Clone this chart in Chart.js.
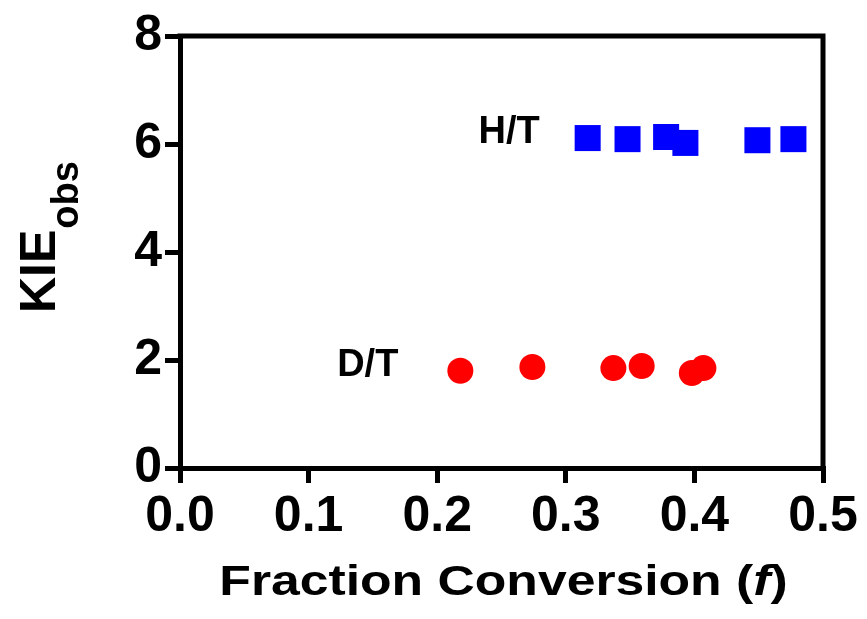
<!DOCTYPE html>
<html>
<head>
<meta charset="utf-8">
<script src="https://cdn.jsdelivr.net/npm/chart.js@4.4.0/dist/chart.umd.min.js"></script>
<style>
  html, body { margin: 0; padding: 0; background: #fff; }
  #wrap { width: 867px; height: 619px; }
</style>
</head>
<body>
<div id="wrap"><canvas id="kieChart"></canvas></div>
<script>
// H/T series (blue squares)
var htX = [0.317, 0.348, 0.378, 0.393, 0.449, 0.477];
var htY = [6.11, 6.09, 6.13, 6.02, 6.07, 6.09];
// D/T series (red circles)
var dtX = [0.218, 0.274, 0.337, 0.359, 0.398, 0.407];
var dtY = [1.80, 1.87, 1.85, 1.89, 1.76, 1.85];

var xTicks = [0, 0.1, 0.2, 0.3, 0.4, 0.5];
var yTicks = [0, 2, 4, 6, 8];

// in-plot series labels, placed in data units
var labelNames = ["H/T", "D/T"];
var labelX = [0.256, 0.146];
var labelY = [6.21, 1.89];

function toPoints(xs, ys) {
  return xs.map(function (x, i) { return { x: x, y: ys[i] }; });
}

var FONT = '"Liberation Sans", Arial, sans-serif';

var framePlugin = {
  id: "frame",
  afterDraw: function (chart) {
    var ctx = chart.ctx;
    var a = chart.chartArea;
    var xs = chart.scales.x, ys = chart.scales.y;
    ctx.save();

    // top + right frame
    ctx.strokeStyle = "#000";
    ctx.lineWidth = 5;
    ctx.lineCap = "square";
    ctx.beginPath();
    ctx.moveTo(a.left, a.top);
    ctx.lineTo(a.right, a.top);
    ctx.lineTo(a.right, a.bottom);
    ctx.stroke();

    // series labels
    ctx.fillStyle = "#000";
    ctx.font = "bold 38px " + FONT;
    ctx.textAlign = "center";
    ctx.textBaseline = "middle";
    labelNames.forEach(function (t, i) {
      ctx.fillText(t, xs.getPixelForValue(labelX[i]), ys.getPixelForValue(labelY[i]));
    });

    // x title with italic f (the original is drawn a bit wide)
    var parts = [["Fraction Conversion (", "bold"], ["f", "italic bold"], [")", "bold"]];
    var total = 0;
    parts.forEach(function (p) {
      ctx.font = p[1] + " 42px " + FONT;
      p.push(ctx.measureText(p[0]).width);
      total += p[2];
    });
    var sx = 1.23;
    ctx.save();
    ctx.translate((a.left + a.right) / 2 + 2, a.bottom + 127);
    ctx.scale(sx, 1);
    var cx = -total / 2;
    ctx.textAlign = "left";
    ctx.textBaseline = "alphabetic";
    parts.forEach(function (p) {
      ctx.font = p[1] + " 42px " + FONT;
      ctx.fillText(p[0], cx, 0);
      cx += p[2];
    });
    ctx.restore();

    // y title KIE with subscript obs
    var cy = (a.top + a.bottom) / 2;
    ctx.textAlign = "left";
    ctx.textBaseline = "alphabetic";
    ctx.translate(a.left - 125, cy + 61);
    ctx.rotate(-Math.PI / 2);
    ctx.font = "bold 50px " + FONT;
    ctx.fillText("KIE", 0, 0);
    var w = ctx.measureText("KIE").width;
    ctx.font = "bold 38px " + FONT;
    ctx.fillText("obs", w + 1, 23);

    ctx.restore();
  }
};

new Chart(document.getElementById("kieChart"), {
  type: "scatter",
  data: {
    datasets: [
      {
        label: "H/T",
        data: toPoints(htX, htY),
        pointStyle: "rect",
        pointRadius: 18.4,
        backgroundColor: "#0000ff",
        borderWidth: 0
      },
      {
        label: "D/T",
        data: toPoints(dtX, dtY),
        pointStyle: "circle",
        pointRadius: 13,
        backgroundColor: "#ff0000",
        borderWidth: 0
      }
    ]
  },
  options: {
    responsive: true,
    maintainAspectRatio: false,
    devicePixelRatio: 1,
    animation: false,
    layout: { padding: { top: 36, right: 44, left: 0, bottom: 0 } },
    plugins: { legend: { display: false }, tooltip: { enabled: false } },
    scales: {
      x: {
        type: "linear",
        min: 0,
        max: 0.5,
        afterBuildTicks: function (s) { s.ticks = xTicks.map(function (v) { return { value: v }; }); },
        afterFit: function (s) { s.height = 151; },
        grid: { display: true, drawOnChartArea: false, drawTicks: true, tickLength: 15, lineWidth: 5, color: "#000" },
        border: { display: true, width: 5, color: "#000" },
        ticks: {
          color: "#000",
          padding: 4,
          maxRotation: 0,
          font: { family: FONT, size: 50, weight: "bold" },
          callback: function (v) { return Number(v).toFixed(1); }
        }
      },
      y: {
        type: "linear",
        min: 0,
        max: 8,
        afterBuildTicks: function (s) { s.ticks = yTicks.map(function (v) { return { value: v }; }); },
        afterFit: function (s) { s.width = 180; },
        grid: { display: true, drawOnChartArea: false, drawTicks: true, tickLength: 15, lineWidth: 5, color: "#000" },
        border: { display: true, width: 5, color: "#000" },
        ticks: {
          color: "#000",
          padding: 3,
          font: { family: FONT, size: 50, weight: "bold" },
          callback: function (v) { return String(v); }
        }
      }
    }
  },
  plugins: [framePlugin]
});
</script>
</body>
</html>
